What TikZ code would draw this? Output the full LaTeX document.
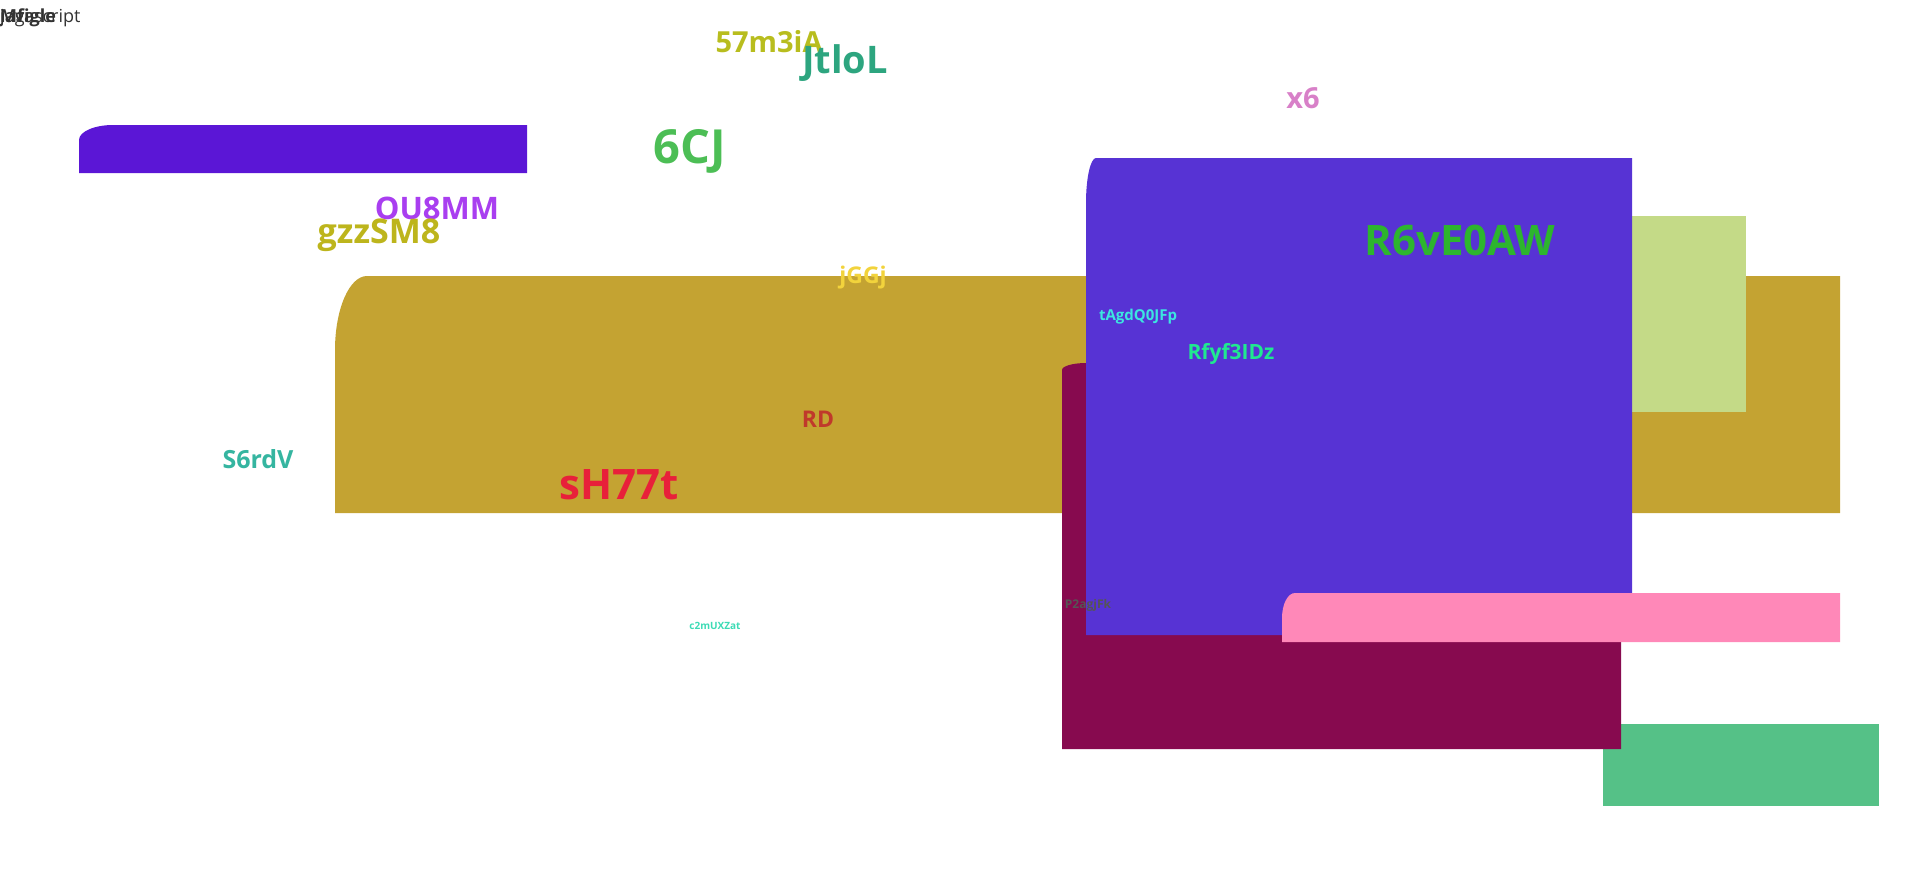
\documentclass[tikz,border=0pt]{standalone}
\usepackage{fontspec}
\setmainfont{Open Sans}
\definecolor{cPurple}{HTML}{5B16D6}
\definecolor{cGold}{HTML}{C4A332}
\definecolor{cLime}{HTML}{C4DA87}
\definecolor{cMaroon}{HTML}{870A4F}
\definecolor{cViolet}{HTML}{5733D4}
\definecolor{cPink}{HTML}{FF88B8}
\definecolor{cGreen}{HTML}{55C187}
\newcommand{\fsz}[1]{\fontsize{#1}{#1}\selectfont}
\tikzstyle{tS}=[inner sep=0pt, font=\bfseries]
\tikzstyle{tR}=[inner sep=0pt, anchor=west, text=black!80, font=\fsz{18}]

\begin{document}
\begin{tikzpicture}[x=1pt,y=-1pt]
                \useasboundingbox (0,0) rectangle (1920,870);
                % blocks
                \fill[cGreen] (1603,724) rectangle (1879,806);
                \fill[cPurple] (79,173) -- (79,140) arc[start angle=180,end angle=270,x radius=34,y radius=15] -- (527,125) -- (527,173) -- cycle;
                \fill[cGold] (335,513) -- (335,350) arc[start angle=180,end angle=270,x radius=32,y radius=74] -- (1840,276) -- (1840,513) -- cycle;
                \fill[cLime] (1630,216) rectangle (1746,412);
                \fill[cMaroon] (1062,749) -- (1062,370) arc[start angle=180,end angle=270,x radius=24,y radius=7] -- (1621,363) -- (1621,749) -- cycle;
                \fill[cViolet] (1086,635) -- (1086,203) arc[start angle=180,end angle=270,x radius=10,y radius=45] -- (1632,158) -- (1632,635) -- cycle;
                \fill[cPink] (1282,642) -- (1282,618) arc[start angle=180,end angle=270,x radius=13,y radius=25] -- (1840,593) -- (1840,642) -- cycle;
                % labels
                \draw (0,18) node[tR, font=\bfseries\fsz{18}] (w0) {Mfigle};
                \draw (0,18) node[tR] (w1) {jaga};
                \draw (0,18) node[tR] (w2) {Javascript};
                \draw (769,42) node[tS, text={rgb,255:red,184;green,189;blue,30}, font=\bfseries\fsz{29}] (l0) {57m3iA};
                \draw (845,63) node[tS, text={rgb,255:red,45;green,165;blue,127}, font=\bfseries\fsz{38}] (l1) {JtloL};
                \draw (1303,98) node[tS, text={rgb,255:red,216;green,128;blue,200}, font=\bfseries\fsz{29}] (l2) {x6};
                \draw (690,151) node[tS, text={rgb,255:red,76;green,190;blue,85}, font=\bfseries\fsz{47}] (l3) {6CJ};
                \draw (437,208) node[tS, text={rgb,255:red,169;green,62;blue,240}, font=\bfseries\fsz{31}] (l4) {OU8MM};
                \draw (379,235) node[tS, text={rgb,255:red,189;green,181;blue,28}, font=\bfseries\fsz{34}] (l5) {gzzSM8};
                \draw (1460,240) node[tS, text={rgb,255:red,45;green,181;blue,46}, font=\bfseries\fsz{42}] (l6) {R6vE0AW};
                \draw (863,278) node[tS, text={rgb,255:red,242;green,211;blue,60}, font=\bfseries\fsz{23}] (l7) {jGGj};
                \draw (1138,317) node[tS, text={rgb,255:red,60;green,230;blue,224}, font=\bfseries\fsz{15}] (l8) {tAgdQ0JFp};
                \draw (1231,354) node[tS, text={rgb,255:red,32;green,232;blue,144}, font=\bfseries\fsz{21}] (l9) {Rfyf3IDz};
                \draw (818,419) node[tS, text={rgb,255:red,192;green,57;blue,43}, font=\bfseries\fsz{23}] (l10) {RD};
                \draw (258,459) node[tS, text={rgb,255:red,53;green,181;blue,160}, font=\bfseries\fsz{25}] (l11) {S6rdV};
                \draw (619,485) node[tS, text={rgb,255:red,232;green,32;blue,58}, font=\bfseries\fsz{42}] (l12) {sH77t};
                \draw (715,626) node[tS, text={rgb,255:red,61;green,219;blue,181}, font=\bfseries\fsz{10}] (l13) {c2mUXZat};
                \draw (1088,605) node[tS, text={rgb,255:red,85;green,85;blue,85}, font=\bfseries\fsz{12}] (l14) {P2agjFk};
        \end{tikzpicture}
\end{document}
